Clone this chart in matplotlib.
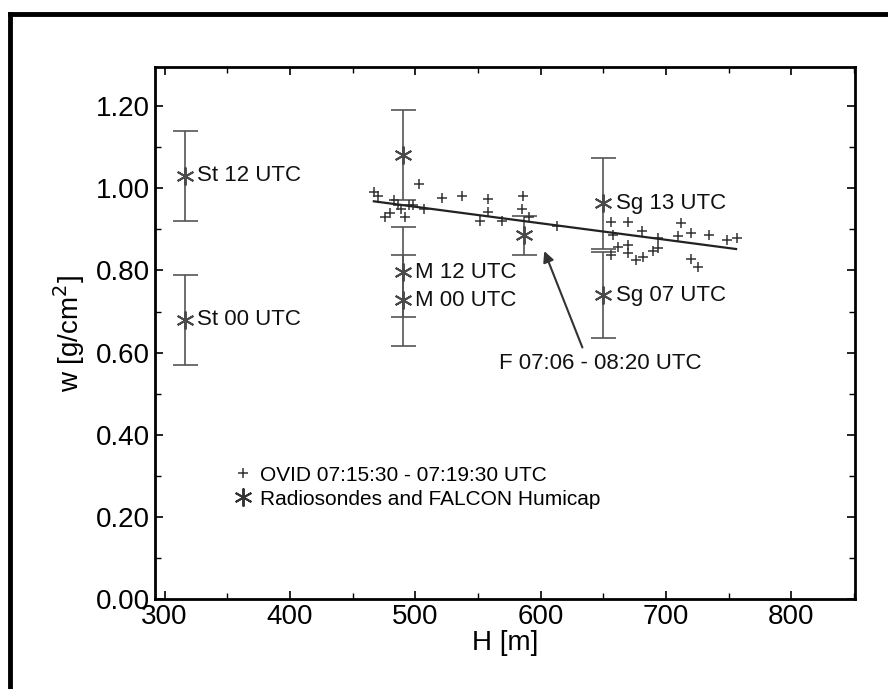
import matplotlib.pyplot as plt
import numpy as np
from matplotlib.lines import Line2D

plt.rcParams['font.family'] = ['Liberation Sans', 'DejaVu Sans']

# OVID retrievals (+)
ovid_H = [467, 470, 476, 480, 483, 486, 489, 492, 495, 498, 503, 507, 521, 537,
          552, 558, 558, 569, 586, 585, 591, 613, 656, 670, 658, 681, 694, 712,
          710, 720, 734, 749, 757, 662, 670, 656, 670, 676, 682, 690, 694, 720, 726]
ovid_w = [0.99, 0.98, 0.93, 0.94, 0.97, 0.96, 0.95, 0.93, 0.96, 0.96, 1.01, 0.95, 0.976, 0.982,
          0.919, 0.943, 0.973, 0.919, 0.982, 0.950, 0.929, 0.908, 0.917, 0.917, 0.886, 0.895, 0.878, 0.915,
          0.884, 0.892, 0.886, 0.873, 0.878, 0.858, 0.862, 0.838, 0.842, 0.826, 0.832, 0.846, 0.854, 0.828, 0.809]

# regression line through OVID points
fit_H = [467, 756]
fit_w = [0.968, 0.852]

# radiosondes and FALCON humicap (*)
sonde_H = [316, 316, 490, 490, 490, 587, 650, 650]
sonde_w = [1.03, 0.68, 1.08, 0.796, 0.727, 0.885, 0.963, 0.74]
sonde_err = [0.11, 0.11, 0.11, 0.11, 0.11, 0.047, 0.11, 0.105]
sonde_lab = ['St 12 UTC', 'St 00 UTC', '', 'M 12 UTC', 'M 00 UTC', '', 'Sg 13 UTC', 'Sg 07 UTC']

fig = plt.figure(figsize=(8.88, 6.89), dpi=100)
ax = fig.add_axes([0.174, 0.13, 0.789, 0.773])

# outer frame (top and left only)
fig.add_artist(Line2D([10/888, 1], [1 - 14/689, 1 - 14/689], color='black', lw=3.5))
fig.add_artist(Line2D([10/888, 10/888], [0, 1 - 14/689], color='black', lw=3.5))

star = (6, 2, 0)
ax.errorbar(sonde_H, sonde_w, yerr=sonde_err, fmt='none', ecolor='#555555',
            elinewidth=1.2, capsize=9, capthick=1.2)
ax.plot(sonde_H, sonde_w, ls='none', marker=star, ms=13, mew=1.4, color='#4a4a4a')
ax.plot(ovid_H, ovid_w, ls='none', marker='+', ms=7.5, mew=1.1, color='#333333')
ax.plot(fit_H, fit_w, color='#222222', lw=1.6)

for h, w, lab in zip(sonde_H, sonde_w, sonde_lab):
    if lab:
        ax.annotate(lab, (h, w), xytext=(9, 0), textcoords='offset points',
                    va='center', ha='left', fontsize=16, color='#111111')

ax.annotate('F 07:06 - 08:20 UTC', xy=(603, 0.847), xytext=(648, 0.574),
            ha='center', va='center', fontsize=16, color='#111111',
            arrowprops=dict(arrowstyle='-|>', color='#333333', lw=1.5,
                            mutation_scale=16, relpos=(0.42, 1.0), shrinkA=2, shrinkB=0))

handles = [Line2D([], [], ls='none', marker='+', ms=7.5, mew=1.1, color='#333333'),
           Line2D([], [], ls='none', marker=star, ms=13, mew=1.4, color='#333333')]
ax.legend(handles, ['OVID 07:15:30 - 07:19:30 UTC', 'Radiosondes and FALCON Humicap'],
          loc='lower left', bbox_to_anchor=(0.085, 0.135), frameon=False, fontsize=15,
          handletextpad=0.3, handlelength=1.0, labelspacing=0.25)

ax.set_xlim(292, 851)
ax.set_ylim(0, 1.295)
ax.set_xticks([300, 400, 500, 600, 700, 800])
ax.set_xticks(np.arange(300, 851, 50), minor=True)
ax.set_yticks(np.arange(0, 1.21, 0.2))
ax.set_yticks(np.arange(0, 1.295, 0.1), minor=True)
ax.set_yticklabels(['%.2f' % v for v in np.arange(0, 1.21, 0.2)])
ax.tick_params(which='both', direction='in', top=True, right=True, labelsize=20)
ax.tick_params(which='major', length=6, width=1.2)
ax.tick_params(which='minor', length=4, width=1.0)
for s in ax.spines.values():
    s.set_linewidth(2)
ax.set_xlabel('H [m]', fontsize=20, labelpad=0)
ax.set_ylabel('w [g/cm$^2$]', fontsize=20, labelpad=6)

fig.savefig('out.png', dpi=100)
